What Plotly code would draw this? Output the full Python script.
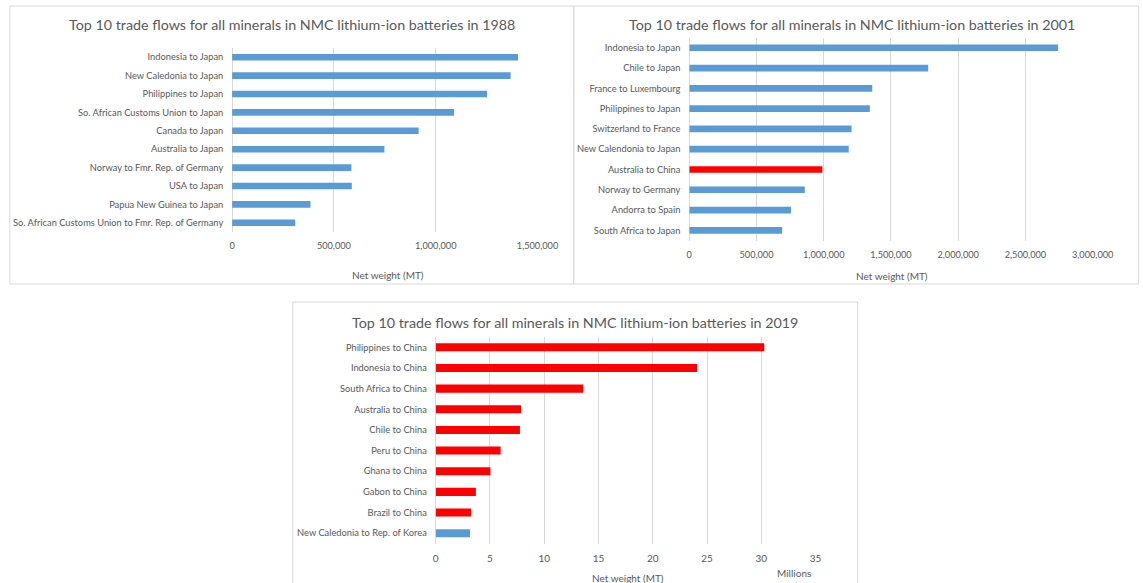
import plotly.graph_objects as go

# ---------------- data ----------------
flows_1988 = ["Indonesia to Japan", "New Caledonia to Japan", "Philippines to Japan",
              "So. African Customs Union to Japan", "Canada to Japan", "Australia to Japan",
              "Norway to Fmr. Rep. of Germany", "USA to Japan", "Papua New Guinea to Japan",
              "So. African Customs Union to Fmr. Rep. of Germany"]
weights_1988 = [1404000, 1368000, 1252000, 1090000, 916000, 748000, 586000, 588000, 385000, 310000]

flows_2001 = ["Indonesia to Japan", "Chile to Japan", "France to Luxembourg", "Philippines to Japan",
              "Switzerland to France", "New Calendonia to Japan", "Australia to China",
              "Norway to Germany", "Andorra to Spain", "South Africa to Japan"]
weights_2001 = [2743000, 1777000, 1361000, 1343000, 1207000, 1186000, 990000, 859000, 757000, 691000]

flows_2019 = ["Philippines to China", "Indonesia to China", "South Africa to China",
              "Australia to China", "Chile to China", "Peru to China", "Ghana to China",
              "Gabon to China", "Brazil to China", "New Caledonia to Rep. of Korea"]
weights_2019_millions = [30.27, 24.08, 13.6, 7.86, 7.76, 5.98, 5.04, 3.70, 3.26, 3.16]

years = ["1988", "2001", "2019"]
axis_title = "Net weight (MT)"

# ---------------- styling ----------------
W, H = 1143, 583
BLUE = "#5b9bd5"
RED = "#ff0000"
TXT = "#595959"
GRID = "#d9d9d9"
FONT = "Lato"


def colors_for(flows):
    return [RED if f.endswith("to China") else BLUE for f in flows]


def xd(a, b):
    return [a / W, b / W]


def yd(top, bottom):
    return [1 - bottom / H, 1 - top / H]


fig = go.Figure()

panels = [
    dict(flows=flows_1988, vals=weights_1988, x=xd(234, 546), y=yd(48, 232), width=0.36,
         rng=[0, 1500000], dtick=500000, fmt=","),
    dict(flows=flows_2001, vals=weights_2001, x=xd(701, 1113), y=yd(37.6, 240.5), width=0.33,
         rng=[0, 3000000], dtick=500000, fmt=","),
    dict(flows=flows_2019, vals=weights_2019_millions, x=xd(442, 830), y=yd(337, 543.5), width=0.39,
         rng=[0, 35], dtick=5, fmt="d"),
]

layout_axes = {}
for i, p in enumerate(panels, start=1):
    sfx = "" if i == 1 else str(i)
    fig.add_trace(go.Bar(
        y=p["flows"], x=p["vals"], orientation="h",
        marker=dict(color=colors_for(p["flows"]), line=dict(width=0)),
        width=p["width"], xaxis="x" + sfx, yaxis="y" + sfx, showlegend=False,
        hoverinfo="x+y",
    ))
    layout_axes["xaxis" + sfx] = dict(
        domain=p["x"], anchor="y" + sfx, range=p["rng"], dtick=p["dtick"], tick0=0,
        tickformat=p["fmt"], showgrid=True, gridcolor=GRID, gridwidth=1,
        zeroline=True, zerolinecolor=GRID, zerolinewidth=1, showline=False,
        ticks="outside", ticklen=5, tickcolor="rgba(0,0,0,0)",
        tickfont=dict(family=FONT, size=9.2 if i < 3 else 10, color=TXT), fixedrange=True,
    )
    layout_axes["yaxis" + sfx] = dict(
        domain=p["y"], anchor="x" + sfx, type="category",
        categoryorder="array", categoryarray=p["flows"], autorange="reversed",
        showgrid=False, zeroline=False, showline=False,
        ticks="outside", ticklen=6, tickcolor="rgba(0,0,0,0)",
        tickfont=dict(family=FONT, size=9.3, color=TXT), fixedrange=True,
    )

# frames
frames = [(7, 6, 583, 284), (583, 6, 1160, 284), (296, 302, 873, 600)]
shapes = []
for (x0, y0, x1, y1) in frames:
    shapes.append(dict(type="rect", xref="paper", yref="paper",
                       x0=x0 / W, x1=x1 / W, y0=1 - y1 / H, y1=1 - y0 / H,
                       line=dict(color=GRID, width=1), fillcolor="rgba(0,0,0,0)", layer="below"))

annotations = []
title_pos = [(295, 24), (867, 24), (584, 322)]
for yr, (tx, ty) in zip(years, title_pos):
    annotations.append(dict(
        text=f"Top 10 trade flows for all minerals in NMC lithium-ion batteries in {yr}",
        x=tx / W, y=1 - ty / H, xref="paper", yref="paper", showarrow=False,
        xanchor="center", yanchor="middle", font=dict(family=FONT, size=14.3, color=TXT)))

axis_title_pos = [(393, 275), (908, 276), (638, 578)]
for (ax, ay) in axis_title_pos:
    annotations.append(dict(text=axis_title, x=ax / W, y=1 - ay / H, xref="paper", yref="paper",
                            showarrow=False, xanchor="center", yanchor="middle",
                            font=dict(family=FONT, size=10, color=TXT)))
annotations.append(dict(text="Millions", x=808 / W, y=1 - 573 / H, xref="paper", yref="paper",
                        showarrow=False, xanchor="center", yanchor="middle",
                        font=dict(family=FONT, size=10, color=TXT)))

fig.update_layout(
    width=W, height=H, margin=dict(l=0, r=0, t=0, b=0),
    paper_bgcolor="white", plot_bgcolor="white",
    shapes=shapes, annotations=annotations, bargap=0.6,
    font=dict(family=FONT, color=TXT),
    **layout_axes,
)

fig.write_html("out.html", config={"displayModeBar": False},
               post_script="document.body.style.margin='0px';document.body.style.overflow='hidden';")
